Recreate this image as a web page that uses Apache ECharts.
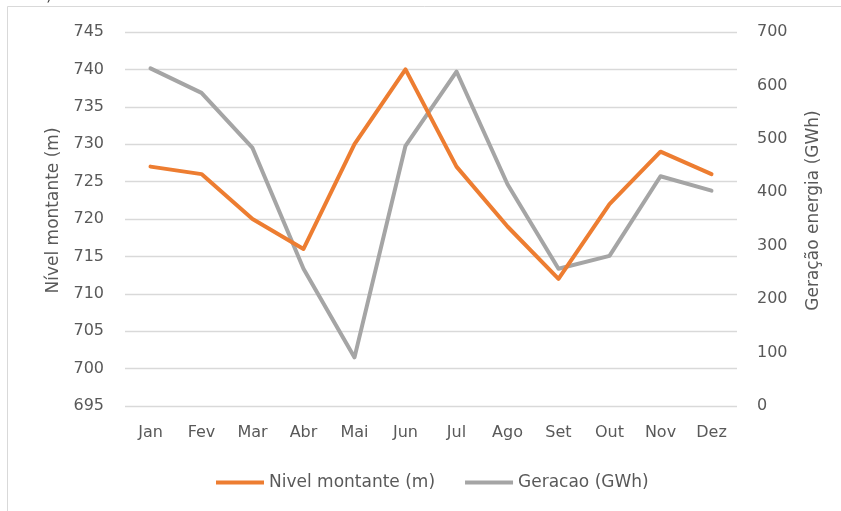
<!DOCTYPE html>
<html>
<head>
<meta charset="utf-8">
<script src="https://cdn.jsdelivr.net/npm/echarts@6/dist/echarts.min.js"></script>
<style>
  html, body { margin: 0; padding: 0; background: #ffffff; }
  #chart { width: 841px; height: 511px; }
</style>
</head>
<body>
<div id="chart"></div>
<script>
const categories = ['Jan', 'Fev', 'Mar', 'Abr', 'Mai', 'Jun', 'Jul', 'Ago', 'Set', 'Out', 'Nov', 'Dez'];
const nivelMontante = [727, 726, 720, 716, 730, 740, 727, 719, 712, 722, 729, 726];
const geracao = [632, 586, 483, 257, 91, 487, 626, 415, 257, 281, 430, 403];
const seriesNames = ['Nivel montante (m)', 'Geracao (GWh)'];
const leftAxisName = 'Nível montante (m)';
const rightAxisName = 'Geração energia (GWh)';

const FONT = 'DejaVu Sans';
const TXT = '#595959';

const chart = echarts.init(document.getElementById('chart'), null, { renderer: 'canvas' });
chart.setOption({
  animation: false,
  backgroundColor: '#ffffff',
  graphic: [
    {
      type: 'rect',
      shape: { x: 7.5, y: 6.5, width: 900, height: 600 },
      style: { fill: 'none', stroke: '#d9d9d9', lineWidth: 1 },
      silent: true
    },
    {
      type: 'text',
      left: 46, top: -12,
      style: { text: ')', font: '16px "DejaVu Sans"', fill: '#404040' },
      silent: true
    }
  ],
  grid: { left: 125, right: 104, top: 32, bottom: 105, containLabel: false },
  legend: {
    bottom: 15,
    left: 211,
    itemWidth: 48,
    itemHeight: 4,
    itemGap: 30,
    icon: 'rect',
    textStyle: { color: TXT, fontFamily: FONT, fontSize: 17 },
    data: seriesNames
  },
  xAxis: {
    type: 'category',
    data: categories,
    boundaryGap: true,
    axisLine: { show: false },
    axisTick: { show: false },
    axisLabel: { color: TXT, fontFamily: FONT, fontSize: 16, margin: 19 }
  },
  yAxis: [
    {
      type: 'value',
      min: 695, max: 745, interval: 5,
      position: 'left',
      name: leftAxisName,
      nameLocation: 'middle',
      nameGap: 63,
      nameTextStyle: { color: TXT, fontFamily: FONT, fontSize: 17, padding: [0, 0, 0, 17] },
      axisLine: { show: false },
      axisTick: { show: false },
      axisLabel: { color: TXT, fontFamily: FONT, fontSize: 16, margin: 21 },
      splitLine: { lineStyle: { color: '#d9d9d9', width: 1.3 } }
    },
    {
      type: 'value',
      min: 0, max: 700, interval: 100,
      position: 'right',
      name: rightAxisName,
      nameLocation: 'middle',
      nameGap: 68,
      nameRotate: 90,
      nameTextStyle: { color: TXT, fontFamily: FONT, fontSize: 17, padding: [0, 0, 0, 17] },
      axisLine: { show: false },
      axisTick: { show: false },
      axisLabel: { color: TXT, fontFamily: FONT, fontSize: 16, margin: 20 },
      splitLine: { show: false }
    }
  ],
  series: [
    {
      name: seriesNames[0],
      type: 'line',
      yAxisIndex: 0,
      data: nivelMontante,
      symbol: 'none',
      lineStyle: { color: '#ED7D31', width: 4, cap: 'round', join: 'round' },
      itemStyle: { color: '#ED7D31' },
      z: 3
    },
    {
      name: seriesNames[1],
      type: 'line',
      yAxisIndex: 1,
      data: geracao,
      symbol: 'none',
      lineStyle: { color: '#A5A5A5', width: 4, cap: 'round', join: 'round' },
      itemStyle: { color: '#A5A5A5' },
      z: 2
    }
  ]
});
</script>
</body>
</html>
